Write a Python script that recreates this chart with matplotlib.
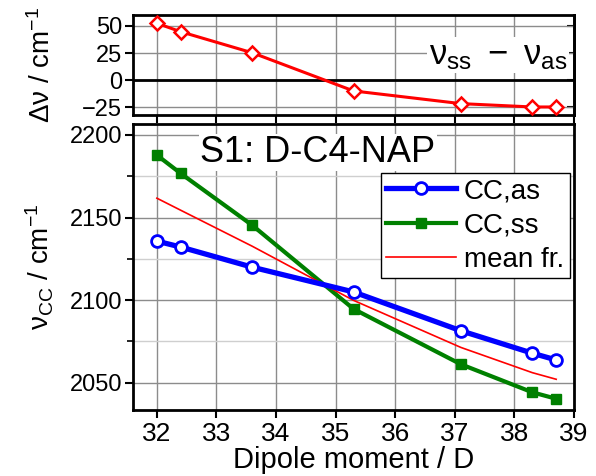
"""
two-panel plot: CC stretch frequencies vs dipole moment
"""

import numpy as np
import matplotlib
matplotlib.use("Agg")
import matplotlib.pyplot as plt
from matplotlib.ticker import MultipleLocator

plt.rcParams['font.family'] = ['Liberation Sans', 'DejaVu Sans']
plt.rcParams['mathtext.fontset'] = 'custom'
plt.rcParams['mathtext.rm'] = 'Liberation Sans'
plt.rcParams['mathtext.it'] = 'Liberation Sans'

# dipole moment / D
dipole = [32.0, 32.4, 33.6, 35.3, 37.1, 38.3, 38.7]
# frequencies / cm-1
nu_as = [2135.7, 2132.1, 2119.9, 2104.9, 2081.4, 2067.8, 2063.7]
nu_ss = [2187.8, 2176.7, 2145.3, 2094.6, 2061.1, 2044.1, 2040.2]
nu_mean = [2161.7, 2154.4, 2132.6, 2099.8, 2071.3, 2056.0, 2052.0]
# splitting nu_ss - nu_as
delta = [52.5, 44.7, 25.3, -9.9, -21.6, -24.7, -24.7]

x_ticks = [32, 33, 34, 35, 36, 37, 38, 39]

fig = plt.figure(figsize=(5.96, 4.76), dpi=100)
ax_top = fig.add_axes([0.2232, 0.7584, 0.740, 0.210])
ax = fig.add_axes([0.2232, 0.1387, 0.740, 0.601])

for a in (ax_top, ax):
    for s in a.spines.values():
        s.set_linewidth(2)
    a.set_xlim(31.6, 39.0)
    a.set_xticks(x_ticks)
    a.tick_params(axis='both', which='major', direction='out', length=6, width=1.5)
    a.tick_params(axis='both', which='minor', direction='out', length=4, width=1.2)
    a.grid(True, which='major', color='#8c8c8c', lw=1)
    a.set_axisbelow(True)

# top panel: splitting
ax_top.set_ylim(-32.1, 60.1)
ax_top.set_yticks([-25, 0, 25, 50])
ax_top.tick_params(axis='x', labelbottom=False)
ax_top.tick_params(axis='y', labelsize=17, pad=2)
sec = ax_top.secondary_yaxis('right')
sec.set_yticks([-25, 0, 25, 50])
sec.tick_params(direction='in', length=5, width=1.5, labelright=False)
sec.spines['right'].set_linewidth(2)
ax_top.axhline(0, color='black', lw=2, zorder=1)
ax_top.plot(dipole, delta, color='red', lw=2.2, marker='D', ms=7,
            mfc='white', mec='red', mew=1.8, zorder=3)
ax_top.text(0.985, 0.60, r'$\mathregular{\nu_{ss}\ -\ \nu_{as}}$', transform=ax_top.transAxes,
            ha='right', va='center', fontsize=25,
            bbox=dict(facecolor='white', edgecolor='none', pad=1))
ax_top.set_ylabel(r'$\mathregular{\Delta\nu}$ / cm$\mathregular{^{-1}}$', fontsize=20)

# bottom panel: frequencies
ax.set_ylim(2033.4, 2206.7)
ax.yaxis.set_major_locator(MultipleLocator(50))
ax.yaxis.set_minor_locator(MultipleLocator(25))
ax.grid(True, which='minor', axis='y', color='#cfcfcf', lw=1)
ax.tick_params(axis='y', labelsize=17, pad=2)
ax.tick_params(axis='x', labelsize=19, pad=3)
ax.plot(dipole, nu_as, color='blue', lw=3.8, marker='o', ms=8.5,
        mfc='white', mec='blue', mew=2, label='CC,as', zorder=4)
ax.plot(dipole, nu_ss, color='green', lw=3, marker='s', ms=7,
        mfc='green', mec='green', label='CC,ss', zorder=3)
ax.plot(dipole, nu_mean, color='red', lw=1.2, label='mean fr.', zorder=3)

ax.text(0.152, 0.90, 'S1: D-C4-NAP', transform=ax.transAxes, ha='left', va='center',
        fontsize=26, bbox=dict(facecolor='white', edgecolor='none', pad=1))

leg = ax.legend(loc='upper right', bbox_to_anchor=(0.99, 0.83), borderaxespad=0,
                fontsize=20, frameon=True, fancybox=False, framealpha=1,
                edgecolor='black', handlelength=2.5, handletextpad=0.3,
                labelspacing=0.3, borderpad=0.2)
leg.get_frame().set_linewidth(1)

ax.set_ylabel(r'$\mathregular{\nu_{CC}}$ / cm$\mathregular{^{-1}}$', fontsize=20)
ax.set_xlabel('Dipole moment / D', fontsize=21, labelpad=0)

ax_top.yaxis.set_label_coords(-0.175, 0.5)
ax.yaxis.set_label_coords(-0.175, 0.5)

fig.savefig('out.png', dpi=100)
